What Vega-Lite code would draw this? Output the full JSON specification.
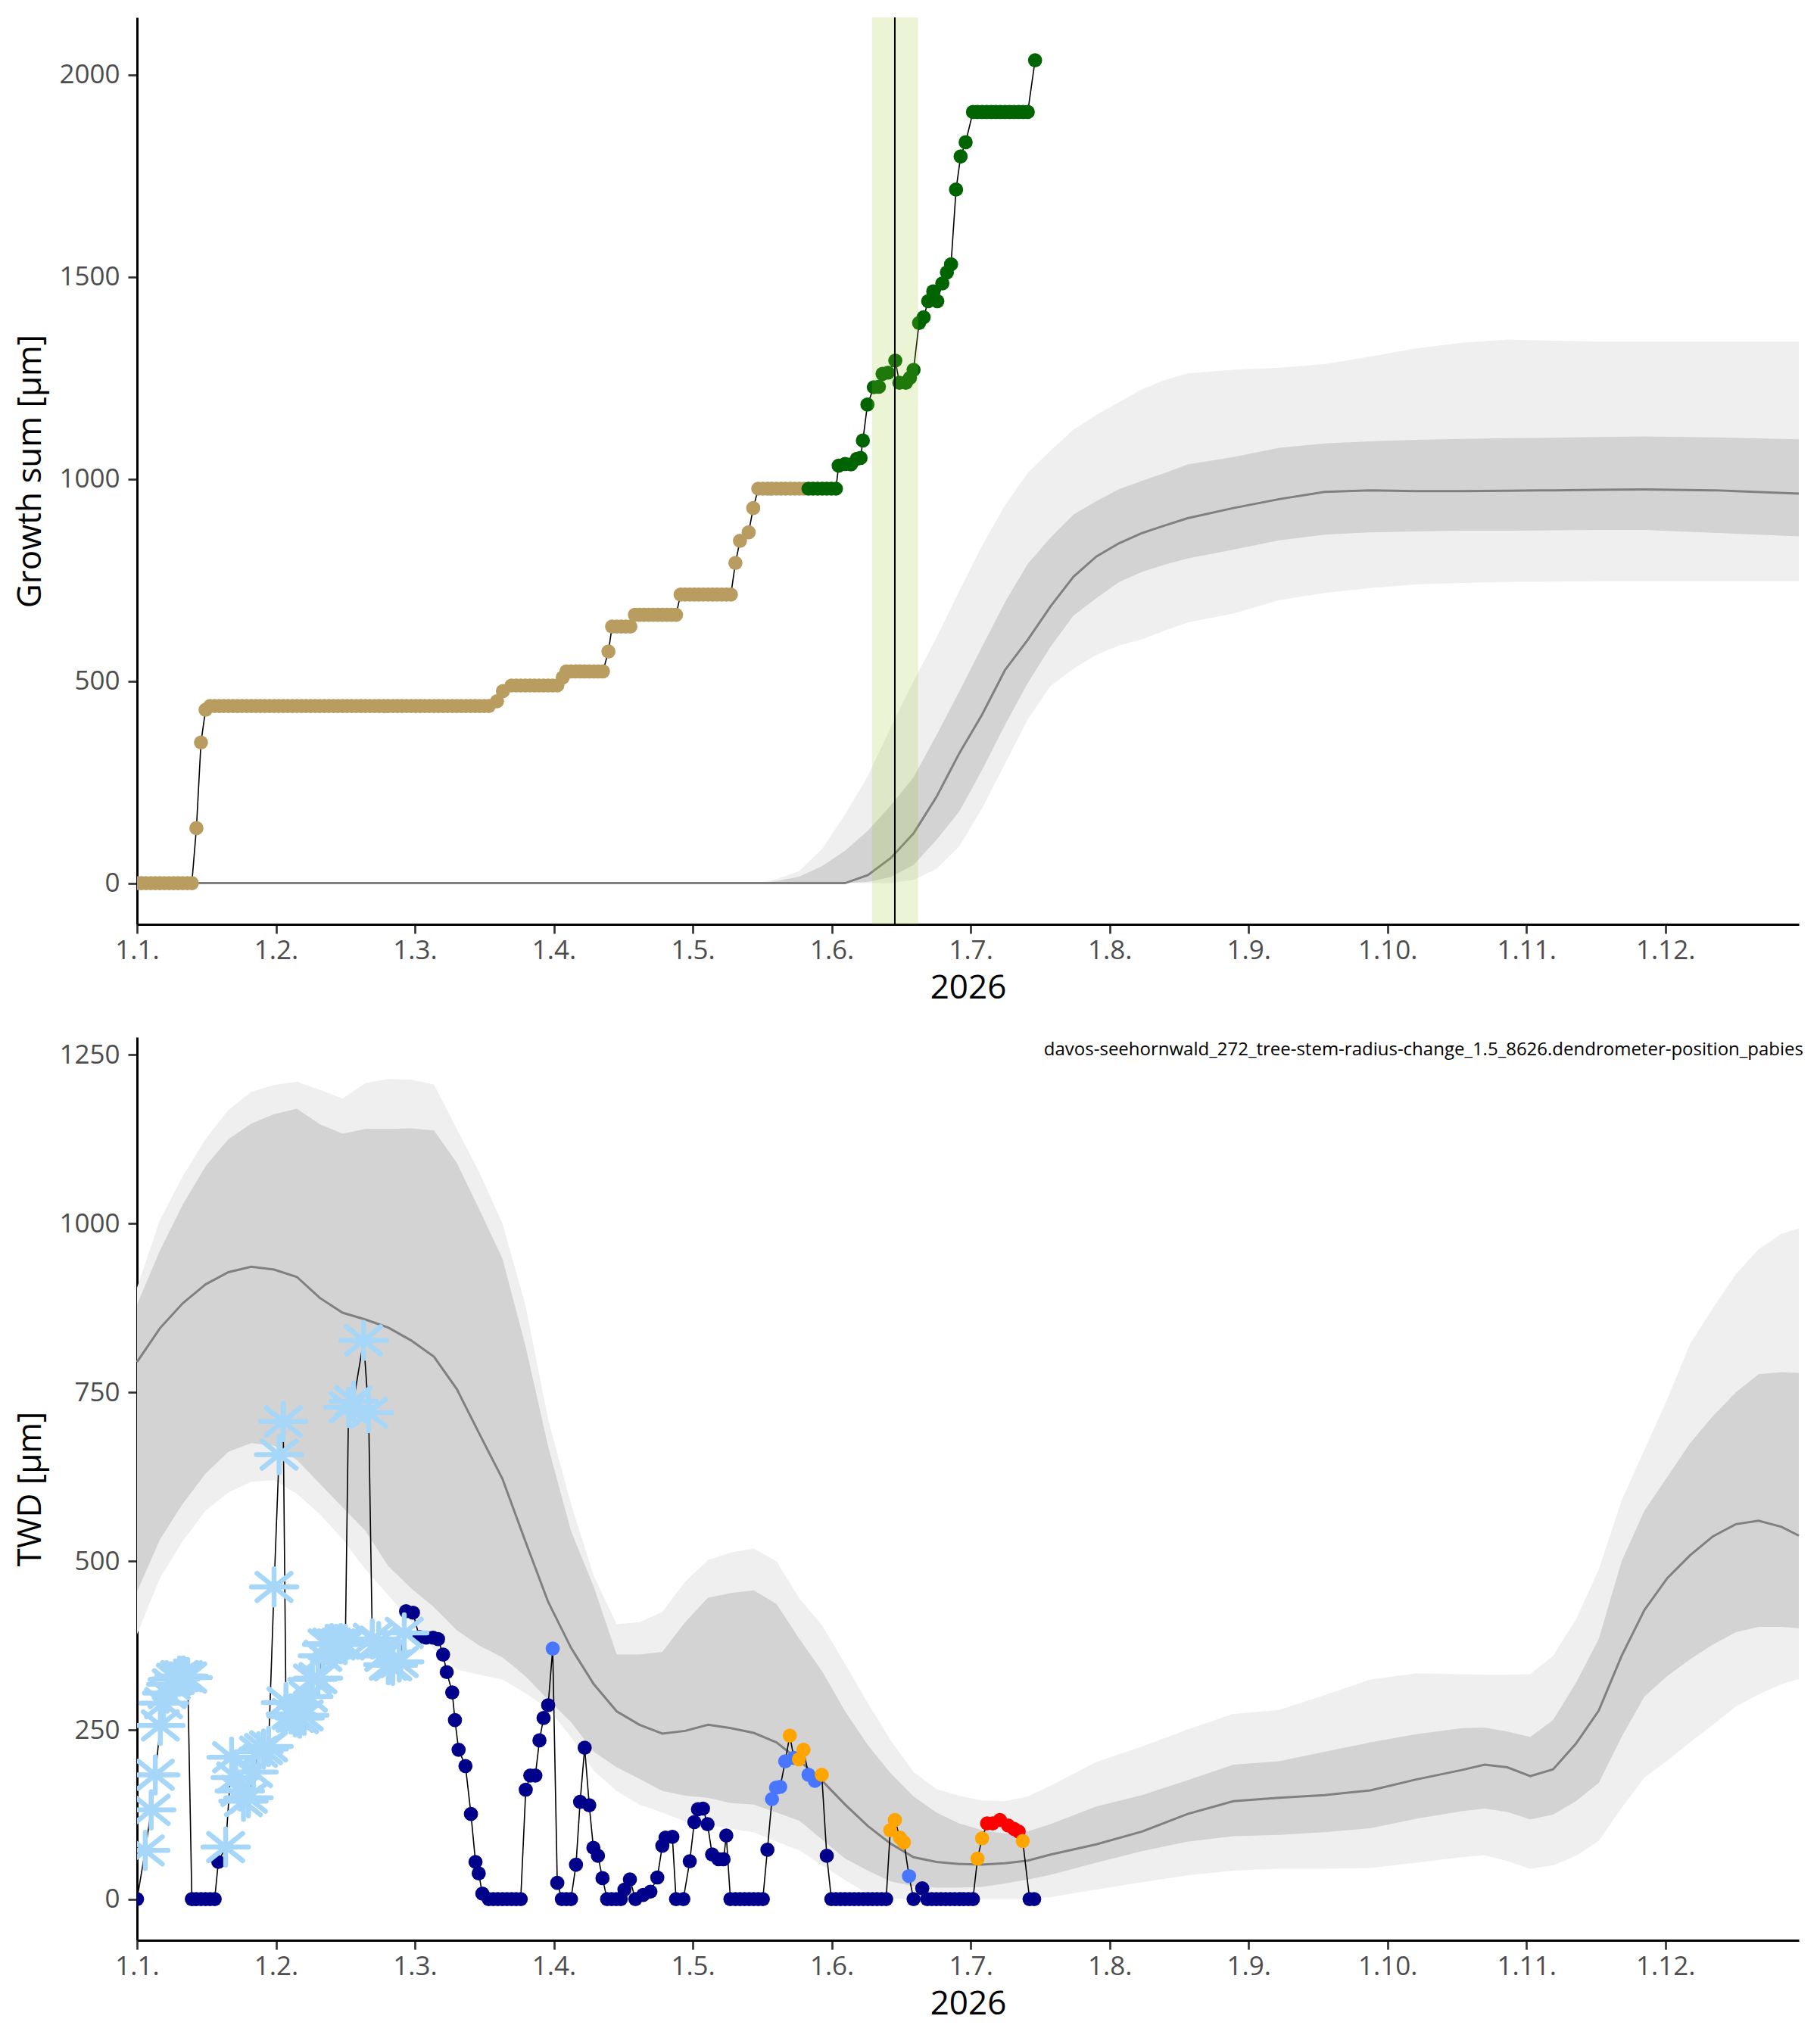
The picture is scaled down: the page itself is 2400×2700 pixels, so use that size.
{
  "$schema": "https://vega.github.io/schema/vega-lite/v6.json",
  "background": "white",
  "padding": {"left": 18, "top": 22, "right": 24, "bottom": 10},
  "spacing": 43,
  "resolve": {"scale": {"color": "independent"}},
  "config": {
    "view": {"stroke": null},
    "font": "Open Sans",
    "axis": {
      "grid": false,
      "domainColor": "#000000",
      "domainWidth": 3,
      "tickColor": "#333333",
      "tickWidth": 2.7,
      "tickSize": 12,
      "labelColor": "#4D4D4D",
      "labelFontSize": 35,
      "labelFont": "Open Sans",
      "titleFont": "Open Sans",
      "titleFontSize": 44,
      "titleFontWeight": "normal",
      "titleColor": "#000000"
    },
    "axisX": {"labelPadding": 5, "titlePadding": 10, "labelFlush": false},
    "axisY": {"labelPadding": 11, "titlePadding": 15, "format": "d"}
  },
  "datasets": {
    "gs": [
      {"d":0,"v":0,"c":"tan"},{"d":1,"v":0,"c":"tan"},{"d":2,"v":0,"c":"tan"},{"d":3,"v":0,"c":"tan"},{"d":4,"v":0,"c":"tan"},{"d":5,"v":0,"c":"tan"},{"d":6,"v":0,"c":"tan"},{"d":7,"v":0,"c":"tan"},{"d":8,"v":0,"c":"tan"},{"d":9,"v":0,"c":"tan"},{"d":10,"v":0,"c":"tan"},{"d":11,"v":0,"c":"tan"},{"d":12,"v":0,"c":"tan"},
      {"d":13,"v":136,"c":"tan"},{"d":14,"v":348,"c":"tan"},{"d":15,"v":429,"c":"tan"},
      {"d":16,"v":438,"c":"tan"},{"d":17,"v":438,"c":"tan"},{"d":18,"v":438,"c":"tan"},{"d":19,"v":438,"c":"tan"},{"d":20,"v":438,"c":"tan"},{"d":21,"v":438,"c":"tan"},{"d":22,"v":438,"c":"tan"},{"d":23,"v":438,"c":"tan"},{"d":24,"v":438,"c":"tan"},{"d":25,"v":438,"c":"tan"},
      {"d":26,"v":438,"c":"tan"},{"d":27,"v":438,"c":"tan"},{"d":28,"v":438,"c":"tan"},{"d":29,"v":438,"c":"tan"},{"d":30,"v":438,"c":"tan"},{"d":31,"v":438,"c":"tan"},{"d":32,"v":438,"c":"tan"},{"d":33,"v":438,"c":"tan"},{"d":34,"v":438,"c":"tan"},{"d":35,"v":438,"c":"tan"},
      {"d":36,"v":438,"c":"tan"},{"d":37,"v":438,"c":"tan"},{"d":38,"v":438,"c":"tan"},{"d":39,"v":438,"c":"tan"},{"d":40,"v":438,"c":"tan"},{"d":41,"v":438,"c":"tan"},{"d":42,"v":438,"c":"tan"},{"d":43,"v":438,"c":"tan"},{"d":44,"v":438,"c":"tan"},{"d":45,"v":438,"c":"tan"},
      {"d":46,"v":438,"c":"tan"},{"d":47,"v":438,"c":"tan"},{"d":48,"v":438,"c":"tan"},{"d":49,"v":438,"c":"tan"},{"d":50,"v":438,"c":"tan"},{"d":51,"v":438,"c":"tan"},{"d":52,"v":438,"c":"tan"},{"d":53,"v":438,"c":"tan"},{"d":54,"v":438,"c":"tan"},{"d":55,"v":438,"c":"tan"},
      {"d":56,"v":438,"c":"tan"},{"d":57,"v":438,"c":"tan"},{"d":58,"v":438,"c":"tan"},{"d":59,"v":438,"c":"tan"},{"d":60,"v":438,"c":"tan"},{"d":61,"v":438,"c":"tan"},{"d":62,"v":438,"c":"tan"},{"d":63,"v":438,"c":"tan"},{"d":64,"v":438,"c":"tan"},{"d":65,"v":438,"c":"tan"},
      {"d":66,"v":438,"c":"tan"},{"d":67,"v":438,"c":"tan"},{"d":68,"v":438,"c":"tan"},{"d":69,"v":438,"c":"tan"},{"d":70,"v":438,"c":"tan"},{"d":71,"v":438,"c":"tan"},{"d":72,"v":438,"c":"tan"},{"d":73,"v":438,"c":"tan"},{"d":74,"v":438,"c":"tan"},{"d":75,"v":438,"c":"tan"},
      {"d":76,"v":438,"c":"tan"},{"d":77,"v":438,"c":"tan"},
      {"d":78.8,"v":450,"c":"tan"},{"d":80.1,"v":475,"c":"tan"},
      {"d":82,"v":489,"c":"tan"},{"d":83,"v":489,"c":"tan"},{"d":84,"v":489,"c":"tan"},{"d":85,"v":489,"c":"tan"},{"d":86,"v":489,"c":"tan"},{"d":87,"v":489,"c":"tan"},{"d":88,"v":489,"c":"tan"},{"d":89,"v":489,"c":"tan"},{"d":90,"v":489,"c":"tan"},{"d":91,"v":489,"c":"tan"},{"d":92,"v":489,"c":"tan"},
      {"d":93.2,"v":509,"c":"tan"},
      {"d":94,"v":524,"c":"tan"},{"d":95,"v":524,"c":"tan"},{"d":96,"v":524,"c":"tan"},{"d":97,"v":524,"c":"tan"},{"d":98,"v":524,"c":"tan"},{"d":99,"v":524,"c":"tan"},{"d":100,"v":524,"c":"tan"},{"d":101,"v":524,"c":"tan"},{"d":102,"v":524,"c":"tan"},
      {"d":103.2,"v":573,"c":"tan"},
      {"d":104,"v":635,"c":"tan"},{"d":105,"v":635,"c":"tan"},{"d":106,"v":635,"c":"tan"},{"d":107,"v":635,"c":"tan"},{"d":108,"v":635,"c":"tan"},
      {"d":109,"v":664,"c":"tan"},{"d":110,"v":664,"c":"tan"},{"d":111,"v":664,"c":"tan"},{"d":112,"v":664,"c":"tan"},{"d":113,"v":664,"c":"tan"},{"d":114,"v":664,"c":"tan"},{"d":115,"v":664,"c":"tan"},{"d":116,"v":664,"c":"tan"},{"d":117,"v":664,"c":"tan"},{"d":118,"v":664,"c":"tan"},
      {"d":119,"v":714,"c":"tan"},{"d":120,"v":714,"c":"tan"},{"d":121,"v":714,"c":"tan"},{"d":122,"v":714,"c":"tan"},{"d":123,"v":714,"c":"tan"},{"d":124,"v":714,"c":"tan"},{"d":125,"v":714,"c":"tan"},{"d":126,"v":714,"c":"tan"},{"d":127,"v":714,"c":"tan"},{"d":128,"v":714,"c":"tan"},{"d":129,"v":714,"c":"tan"},{"d":130,"v":714,"c":"tan"},
      {"d":131,"v":792,"c":"tan"},{"d":132,"v":847,"c":"tan"},{"d":133.9,"v":868,"c":"tan"},{"d":134.9,"v":928,"c":"tan"},
      {"d":136,"v":976,"c":"tan"},{"d":137,"v":976,"c":"tan"},{"d":138,"v":976,"c":"tan"},{"d":139,"v":976,"c":"tan"},{"d":140,"v":976,"c":"tan"},{"d":141,"v":976,"c":"tan"},{"d":142,"v":976,"c":"tan"},{"d":143,"v":976,"c":"tan"},{"d":144,"v":976,"c":"tan"},{"d":145,"v":976,"c":"tan"},{"d":146,"v":976,"c":"tan"},
      {"d":147,"v":976,"c":"green"},{"d":148,"v":976,"c":"green"},{"d":149,"v":976,"c":"green"},{"d":150,"v":976,"c":"green"},{"d":151,"v":976,"c":"green"},{"d":152,"v":976,"c":"green"},{"d":153,"v":976,"c":"green"},
      {"d":153.6,"v":1033,"c":"green"},{"d":155.0,"v":1037,"c":"green"},{"d":156.3,"v":1036,"c":"green"},{"d":157.6,"v":1050,"c":"green"},{"d":158.4,"v":1052,"c":"green"},{"d":158.9,"v":1095,"c":"green"},
      {"d":159.9,"v":1184,"c":"green"},{"d":161.3,"v":1227,"c":"green"},{"d":162.4,"v":1228,"c":"green"},{"d":163.2,"v":1260,"c":"green"},{"d":164.4,"v":1263,"c":"green"},{"d":166.0,"v":1293,"c":"green"},
      {"d":166.9,"v":1238,"c":"green"},{"d":168.3,"v":1238,"c":"green"},{"d":169.2,"v":1250,"c":"green"},{"d":170.0,"v":1270,"c":"green"},{"d":171.2,"v":1386,"c":"green"},{"d":172.2,"v":1400,"c":"green"},
      {"d":173.2,"v":1440,"c":"green"},{"d":174.3,"v":1464,"c":"green"},{"d":175.2,"v":1440,"c":"green"},{"d":176.3,"v":1484,"c":"green"},{"d":177.3,"v":1511,"c":"green"},{"d":178.2,"v":1531,"c":"green"},
      {"d":179.3,"v":1716,"c":"green"},{"d":180.3,"v":1798,"c":"green"},{"d":181.4,"v":1833,"c":"green"},
      {"d":183,"v":1908,"c":"green"},{"d":184,"v":1908,"c":"green"},{"d":185,"v":1908,"c":"green"},{"d":186,"v":1908,"c":"green"},{"d":187,"v":1908,"c":"green"},{"d":188,"v":1908,"c":"green"},{"d":189,"v":1908,"c":"green"},
      {"d":190,"v":1908,"c":"green"},{"d":191,"v":1908,"c":"green"},{"d":192,"v":1908,"c":"green"},{"d":193,"v":1908,"c":"green"},{"d":194,"v":1908,"c":"green"},{"d":195,"v":1908,"c":"green"},
      {"d":196.6,"v":2036,"c":"green"}
    ],
    "gsband": [
      {"d":0,"lo90":0,"lo50":0,"med":0,"hi50":0,"hi90":0},
      {"d":130,"lo90":0,"lo50":0,"med":0,"hi50":0,"hi90":0},
      {"d":136,"lo90":0,"lo50":0,"med":0,"hi50":0,"hi90":0},
      {"d":140,"lo90":0,"lo50":0,"med":0,"hi50":5,"hi90":10},
      {"d":145,"lo90":0,"lo50":0,"med":0,"hi50":16,"hi90":30},
      {"d":150,"lo90":0,"lo50":0,"med":0,"hi50":42,"hi90":85},
      {"d":155,"lo90":0,"lo50":0,"med":0,"hi50":80,"hi90":170},
      {"d":160,"lo90":0,"lo50":3,"med":20,"hi50":130,"hi90":265},
      {"d":165,"lo90":0,"lo50":15,"med":62,"hi50":192,"hi90":385},
      {"d":170,"lo90":8,"lo50":45,"med":123,"hi50":262,"hi90":500},
      {"d":175,"lo90":35,"lo50":107,"med":213,"hi50":366,"hi90":607},
      {"d":180,"lo90":91,"lo50":177,"med":321,"hi50":474,"hi90":723},
      {"d":185,"lo90":185,"lo50":280,"med":417,"hi50":585,"hi90":835},
      {"d":190,"lo90":295,"lo50":391,"med":527,"hi50":695,"hi90":935},
      {"d":195,"lo90":405,"lo50":495,"med":602,"hi50":790,"hi90":1015},
      {"d":200,"lo90":488,"lo50":585,"med":685,"hi50":855,"hi90":1070},
      {"d":205,"lo90":530,"lo50":662,"med":758,"hi50":912,"hi90":1122},
      {"d":210,"lo90":565,"lo50":705,"med":808,"hi50":945,"hi90":1158},
      {"d":215,"lo90":588,"lo50":745,"med":841,"hi50":975,"hi90":1190},
      {"d":220,"lo90":603,"lo50":770,"med":866,"hi50":995,"hi90":1222},
      {"d":225,"lo90":625,"lo50":788,"med":885,"hi50":1015,"hi90":1245},
      {"d":230,"lo90":645,"lo50":803,"med":903,"hi50":1036,"hi90":1261},
      {"d":240,"lo90":667,"lo50":825,"med":928,"hi50":1054,"hi90":1270},
      {"d":250,"lo90":700,"lo50":848,"med":950,"hi50":1077,"hi90":1275},
      {"d":260,"lo90":718,"lo50":862,"med":968,"hi50":1088,"hi90":1284},
      {"d":270,"lo90":730,"lo50":868,"med":972,"hi50":1093,"hi90":1303},
      {"d":280,"lo90":739,"lo50":870,"med":970,"hi50":1097,"hi90":1323},
      {"d":290,"lo90":743,"lo50":872,"med":970,"hi50":1099,"hi90":1337},
      {"d":300,"lo90":745,"lo50":872,"med":971,"hi50":1101,"hi90":1345},
      {"d":310,"lo90":746,"lo50":873,"med":972,"hi50":1102,"hi90":1342},
      {"d":320,"lo90":747,"lo50":874,"med":973,"hi50":1104,"hi90":1340},
      {"d":330,"lo90":747,"lo50":874,"med":974,"hi50":1105,"hi90":1340},
      {"d":345,"lo90":747,"lo50":867,"med":972,"hi50":1103,"hi90":1340},
      {"d":363.8,"lo90":747,"lo50":858,"med":964,"hi50":1098,"hi90":1340}
    ],
    "twd": [
      {"d":0,"v":0,"c":"n"},
      {"d":1.8,"v":72,"c":"s"},{"d":3.1,"v":132,"c":"s"},{"d":4.0,"v":184,"c":"s"},{"d":5.1,"v":257,"c":"s"},{"d":5.8,"v":290,"c":"s"},{"d":6.6,"v":305,"c":"s"},
      {"d":7.5,"v":318,"c":"s"},{"d":8.4,"v":326,"c":"s"},{"d":9.3,"v":330,"c":"s"},{"d":10.2,"v":330,"c":"s"},{"d":11.1,"v":328,"c":"s"},
      {"d":12,"v":0,"c":"n"},{"d":13,"v":0,"c":"n"},{"d":14,"v":0,"c":"n"},{"d":15,"v":0,"c":"n"},{"d":16,"v":0,"c":"n"},{"d":17,"v":0,"c":"n"},
      {"d":17.8,"v":55,"c":"n"},
      {"d":19.4,"v":77,"c":"s"},{"d":20.7,"v":210,"c":"s"},{"d":21.6,"v":180,"c":"s"},{"d":22.5,"v":160,"c":"s"},{"d":23.3,"v":145,"c":"s"},{"d":24.4,"v":150,"c":"s"},
      {"d":25.5,"v":188,"c":"s"},{"d":26.6,"v":218,"c":"s"},{"d":27.7,"v":222,"c":"s"},{"d":28.8,"v":226,"c":"s"},
      {"d":30.0,"v":462,"c":"s"},{"d":31.1,"v":658,"c":"s"},{"d":32.0,"v":707,"c":"s"},
      {"d":32.6,"v":291,"c":"s"},{"d":33.7,"v":274,"c":"s"},{"d":34.6,"v":270,"c":"s"},{"d":35.6,"v":268,"c":"s"},{"d":36.6,"v":272,"c":"s"},{"d":37.5,"v":300,"c":"s"},
      {"d":38.4,"v":325,"c":"s"},{"d":39.6,"v":327,"c":"s"},{"d":40.7,"v":360,"c":"s"},{"d":41.6,"v":377,"c":"s"},{"d":42.6,"v":378,"c":"s"},{"d":43.6,"v":377,"c":"s"},
      {"d":44.6,"v":378,"c":"s"},{"d":45.6,"v":377,"c":"s"},
      {"d":46.3,"v":728,"c":"s"},{"d":47.4,"v":737,"c":"s"},{"d":49.6,"v":827,"c":"s"},{"d":50.7,"v":720,"c":"s"},
      {"d":51.5,"v":385,"c":"s"},{"d":52.9,"v":381,"c":"s"},{"d":54.0,"v":360,"c":"s"},{"d":55.0,"v":347,"c":"s"},{"d":56.0,"v":346,"c":"s"},{"d":57.4,"v":351,"c":"s"},{"d":58.5,"v":394,"c":"s"},
      {"d":58.9,"v":426,"c":"n"},{"d":60.4,"v":424,"c":"n"},{"d":61.8,"v":388,"c":"n"},{"d":63.3,"v":387,"c":"n"},{"d":64.8,"v":387,"c":"n"},{"d":65.9,"v":385,"c":"n"},
      {"d":67.0,"v":362,"c":"n"},{"d":67.8,"v":336,"c":"n"},{"d":69.0,"v":306,"c":"n"},{"d":69.6,"v":265,"c":"n"},{"d":70.4,"v":221,"c":"n"},{"d":71.9,"v":197,"c":"n"},
      {"d":73.1,"v":126,"c":"n"},{"d":74.1,"v":55,"c":"n"},{"d":74.8,"v":38,"c":"n"},{"d":75.6,"v":8,"c":"n"},
      {"d":77,"v":0,"c":"n"},{"d":78,"v":0,"c":"n"},{"d":79,"v":0,"c":"n"},{"d":80,"v":0,"c":"n"},{"d":81,"v":0,"c":"n"},{"d":82,"v":0,"c":"n"},{"d":83,"v":0,"c":"n"},{"d":84,"v":0,"c":"n"},
      {"d":85.1,"v":162,"c":"n"},{"d":86.1,"v":183,"c":"n"},{"d":87.2,"v":183,"c":"n"},{"d":88.1,"v":235,"c":"n"},{"d":89.0,"v":268,"c":"n"},{"d":90.0,"v":287,"c":"n"},
      {"d":91.0,"v":371,"c":"b"},
      {"d":92.0,"v":24,"c":"n"},{"d":93.0,"v":0,"c":"n"},{"d":94.0,"v":0,"c":"n"},{"d":95.0,"v":0,"c":"n"},
      {"d":96.1,"v":51,"c":"n"},{"d":97.0,"v":144,"c":"n"},{"d":98.0,"v":224,"c":"n"},{"d":99.0,"v":139,"c":"n"},{"d":99.9,"v":76,"c":"n"},{"d":100.9,"v":64,"c":"n"},{"d":101.9,"v":31,"c":"n"},
      {"d":102.9,"v":0,"c":"n"},{"d":103.9,"v":0,"c":"n"},{"d":104.9,"v":0,"c":"n"},{"d":105.9,"v":0,"c":"n"},
      {"d":106.7,"v":14,"c":"n"},{"d":107.9,"v":29,"c":"n"},{"d":109.1,"v":0,"c":"n"},{"d":110.8,"v":6,"c":"n"},{"d":112.4,"v":11,"c":"n"},{"d":113.9,"v":32,"c":"n"},
      {"d":115.0,"v":79,"c":"n"},{"d":115.7,"v":91,"c":"n"},{"d":117.2,"v":92,"c":"n"},{"d":118.0,"v":0,"c":"n"},{"d":119.6,"v":0,"c":"n"},
      {"d":121.0,"v":56,"c":"n"},{"d":122.0,"v":114,"c":"n"},{"d":122.8,"v":133,"c":"n"},{"d":123.9,"v":134,"c":"n"},{"d":124.9,"v":111,"c":"n"},{"d":125.9,"v":66,"c":"n"},
      {"d":127.3,"v":59,"c":"n"},{"d":128.4,"v":59,"c":"n"},{"d":129.0,"v":94,"c":"n"},{"d":129.9,"v":0,"c":"n"},
      {"d":131,"v":0,"c":"n"},{"d":132,"v":0,"c":"n"},{"d":133,"v":0,"c":"n"},{"d":134,"v":0,"c":"n"},{"d":135,"v":0,"c":"n"},{"d":136,"v":0,"c":"n"},{"d":137,"v":0,"c":"n"},
      {"d":138.0,"v":73,"c":"n"},
      {"d":139.0,"v":148,"c":"b"},{"d":139.9,"v":165,"c":"b"},{"d":140.8,"v":166,"c":"b"},{"d":141.9,"v":204,"c":"b"},
      {"d":142.9,"v":242,"c":"o"},{"d":143.8,"v":209,"c":"b"},{"d":144.9,"v":207,"c":"o"},{"d":145.9,"v":221,"c":"o"},
      {"d":147.0,"v":184,"c":"b"},{"d":148.4,"v":175,"c":"b"},{"d":149.9,"v":184,"c":"o"},
      {"d":151.0,"v":64,"c":"n"},
      {"d":152,"v":0,"c":"n"},{"d":153,"v":0,"c":"n"},{"d":154,"v":0,"c":"n"},{"d":155,"v":0,"c":"n"},{"d":156,"v":0,"c":"n"},{"d":157,"v":0,"c":"n"},{"d":158,"v":0,"c":"n"},
      {"d":159,"v":0,"c":"n"},{"d":160,"v":0,"c":"n"},{"d":161,"v":0,"c":"n"},{"d":162,"v":0,"c":"n"},{"d":163,"v":0,"c":"n"},{"d":164,"v":0,"c":"n"},
      {"d":164.9,"v":102,"c":"o"},{"d":165.9,"v":117,"c":"o"},{"d":167.0,"v":91,"c":"o"},{"d":167.9,"v":84,"c":"o"},
      {"d":169.0,"v":34,"c":"b"},
      {"d":170.0,"v":0,"c":"n"},{"d":171.9,"v":16,"c":"n"},
      {"d":173,"v":0,"c":"n"},{"d":174,"v":0,"c":"n"},{"d":175,"v":0,"c":"n"},{"d":176,"v":0,"c":"n"},{"d":177,"v":0,"c":"n"},{"d":178,"v":0,"c":"n"},
      {"d":179,"v":0,"c":"n"},{"d":180,"v":0,"c":"n"},{"d":181,"v":0,"c":"n"},{"d":182,"v":0,"c":"n"},{"d":183,"v":0,"c":"n"},
      {"d":184.0,"v":60,"c":"o"},{"d":185.0,"v":90,"c":"o"},
      {"d":186.1,"v":112,"c":"r"},{"d":187.3,"v":112,"c":"r"},{"d":188.9,"v":117,"c":"r"},{"d":190.7,"v":109,"c":"r"},{"d":192.0,"v":104,"c":"r"},{"d":193.0,"v":100,"c":"r"},
      {"d":193.9,"v":86,"c":"o"},
      {"d":195.4,"v":0,"c":"n"},{"d":196.4,"v":0,"c":"n"}
    ],
    "twdband": [
      {"d":0,"lo90":392,"lo50":455,"med":795,"hi50":880,"hi90":905},
      {"d":5,"lo90":475,"lo50":532,"med":845,"hi50":960,"hi90":1005},
      {"d":10,"lo90":530,"lo50":585,"med":882,"hi50":1028,"hi90":1070},
      {"d":15,"lo90":575,"lo50":630,"med":910,"hi50":1085,"hi90":1125},
      {"d":20,"lo90":602,"lo50":662,"med":928,"hi50":1125,"hi90":1168},
      {"d":25,"lo90":618,"lo50":675,"med":936,"hi50":1148,"hi90":1195},
      {"d":30,"lo90":620,"lo50":671,"med":932,"hi50":1162,"hi90":1205},
      {"d":35,"lo90":600,"lo50":650,"med":921,"hi50":1170,"hi90":1210},
      {"d":40,"lo90":570,"lo50":615,"med":890,"hi50":1147,"hi90":1198},
      {"d":45,"lo90":533,"lo50":580,"med":868,"hi50":1133,"hi90":1185},
      {"d":50,"lo90":488,"lo50":545,"med":858,"hi50":1140,"hi90":1208},
      {"d":55,"lo90":450,"lo50":493,"med":846,"hi50":1140,"hi90":1214},
      {"d":60,"lo90":410,"lo50":460,"med":827,"hi50":1141,"hi90":1213},
      {"d":65,"lo90":370,"lo50":432,"med":803,"hi50":1138,"hi90":1206},
      {"d":70,"lo90":340,"lo50":398,"med":755,"hi50":1090,"hi90":1140},
      {"d":75,"lo90":332,"lo50":375,"med":688,"hi50":1020,"hi90":1075},
      {"d":80,"lo90":325,"lo50":358,"med":622,"hi50":948,"hi90":1000},
      {"d":85,"lo90":305,"lo50":330,"med":530,"hi50":820,"hi90":880},
      {"d":90,"lo90":282,"lo50":295,"med":440,"hi50":670,"hi90":710},
      {"d":95,"lo90":240,"lo50":262,"med":372,"hi50":545,"hi90":585},
      {"d":100,"lo90":190,"lo50":218,"med":318,"hi50":462,"hi90":478},
      {"d":105,"lo90":160,"lo50":195,"med":278,"hi50":362,"hi90":407},
      {"d":110,"lo90":140,"lo50":178,"med":258,"hi50":362,"hi90":410},
      {"d":115,"lo90":128,"lo50":160,"med":245,"hi50":366,"hi90":425},
      {"d":120,"lo90":115,"lo50":153,"med":249,"hi50":410,"hi90":470},
      {"d":125,"lo90":110,"lo50":150,"med":258,"hi50":446,"hi90":502},
      {"d":130,"lo90":104,"lo50":142,"med":253,"hi50":453,"hi90":513},
      {"d":135,"lo90":99,"lo50":140,"med":246,"hi50":457,"hi90":519},
      {"d":140,"lo90":85,"lo50":128,"med":232,"hi50":437,"hi90":500},
      {"d":145,"lo90":72,"lo50":116,"med":205,"hi50":385,"hi90":445},
      {"d":150,"lo90":50,"lo50":88,"med":175,"hi50":337,"hi90":405},
      {"d":155,"lo90":28,"lo50":60,"med":140,"hi50":278,"hi90":348},
      {"d":160,"lo90":8,"lo50":42,"med":108,"hi50":228,"hi90":290},
      {"d":165,"lo90":1,"lo50":26,"med":82,"hi50":186,"hi90":235},
      {"d":170,"lo90":0,"lo50":19,"med":62,"hi50":152,"hi90":188},
      {"d":175,"lo90":0,"lo50":17,"med":55,"hi50":128,"hi90":163},
      {"d":180,"lo90":0,"lo50":17,"med":52,"hi50":112,"hi90":153},
      {"d":185,"lo90":0,"lo50":18,"med":51,"hi50":102,"hi90":146},
      {"d":190,"lo90":0,"lo50":23,"med":53,"hi50":97,"hi90":145},
      {"d":195,"lo90":0,"lo50":29,"med":57,"hi50":100,"hi90":152},
      {"d":200,"lo90":3,"lo50":36,"med":66,"hi50":111,"hi90":168},
      {"d":210,"lo90":14,"lo50":54,"med":81,"hi50":137,"hi90":203},
      {"d":220,"lo90":25,"lo50":71,"med":100,"hi50":154,"hi90":226},
      {"d":230,"lo90":35,"lo50":85,"med":126,"hi50":176,"hi90":251},
      {"d":240,"lo90":42,"lo50":93,"med":145,"hi50":199,"hi90":274},
      {"d":250,"lo90":45,"lo50":95,"med":150,"hi50":204,"hi90":280},
      {"d":260,"lo90":45,"lo50":99,"med":154,"hi50":218,"hi90":302},
      {"d":270,"lo90":46,"lo50":105,"med":161,"hi50":232,"hi90":325},
      {"d":280,"lo90":54,"lo50":119,"med":177,"hi50":244,"hi90":334},
      {"d":290,"lo90":62,"lo50":130,"med":191,"hi50":253,"hi90":333},
      {"d":295,"lo90":65,"lo50":134,"med":199,"hi50":254,"hi90":332},
      {"d":300,"lo90":56,"lo50":129,"med":195,"hi50":248,"hi90":332},
      {"d":305,"lo90":45,"lo50":118,"med":182,"hi50":240,"hi90":333},
      {"d":310,"lo90":50,"lo50":125,"med":192,"hi50":265,"hi90":360},
      {"d":315,"lo90":64,"lo50":145,"med":230,"hi50":320,"hi90":414},
      {"d":320,"lo90":86,"lo50":172,"med":279,"hi50":385,"hi90":488},
      {"d":325,"lo90":135,"lo50":240,"med":360,"hi50":500,"hi90":590},
      {"d":330,"lo90":180,"lo50":300,"med":428,"hi50":575,"hi90":665},
      {"d":335,"lo90":205,"lo50":330,"med":475,"hi50":625,"hi90":740},
      {"d":340,"lo90":232,"lo50":355,"med":509,"hi50":675,"hi90":822},
      {"d":345,"lo90":258,"lo50":377,"med":537,"hi50":715,"hi90":875},
      {"d":350,"lo90":285,"lo50":395,"med":555,"hi50":750,"hi90":925},
      {"d":355,"lo90":303,"lo50":403,"med":560,"hi50":777,"hi90":962},
      {"d":360,"lo90":318,"lo50":403,"med":551,"hi50":780,"hi90":985},
      {"d":363.8,"lo90":326,"lo50":401,"med":538,"hi50":779,"hi90":993}
    ]
  },
  "vconcat": [
    {
      "width": 2195,
      "height": 1198,
      "encoding": {
        "x": {
          "field": "d", "type": "quantitative", "title": "2026",
          "scale": {"domain": [0, 363.8], "nice": false, "zero": false},
          "axis": {
            "values": [0, 30.4167, 60.8333, 91.25, 121.6667, 152.0833, 182.5, 212.9167, 243.3333, 273.75, 304.1667, 334.5833],
            "labelExpr": "'1.' + (round(datum.value / 30.4167) + 1) + '.'"
          }
        }
      },
      "layer": [
        {
          "data": {"name": "gsband"},
          "mark": {"type": "area", "color": "#EFEFEF"},
          "encoding": {
            "y": {"field": "lo90", "type": "quantitative", "title": "Growth sum [µm]", "scale": {"domain": [-102, 2142], "nice": false, "zero": false}, "axis": {"values": [0, 500, 1000, 1500, 2000]}},
            "y2": {"field": "hi90"}
          }
        },
        {
          "data": {"name": "gsband"},
          "mark": {"type": "area", "color": "#D3D3D3"},
          "encoding": {
            "y": {"field": "lo50", "type": "quantitative", "title": "Growth sum [µm]", "scale": {"domain": [-102, 2142], "nice": false, "zero": false}, "axis": {"values": [0, 500, 1000, 1500, 2000]}},
            "y2": {"field": "hi50"}
          }
        },
        {
          "data": {"name": "gsband"},
          "mark": {"type": "line", "color": "#808080", "strokeWidth": 3},
          "encoding": {
            "y": {"field": "med", "type": "quantitative", "title": "Growth sum [µm]", "scale": {"domain": [-102, 2142], "nice": false, "zero": false}, "axis": {"values": [0, 500, 1000, 1500, 2000]}}
          }
        },
        {
          "data": {"name": "gs"},
          "mark": {"type": "line", "color": "#000000", "strokeWidth": 1.6},
          "encoding": {
            "y": {"field": "v", "type": "quantitative", "title": "Growth sum [µm]", "scale": {"domain": [-102, 2142], "nice": false, "zero": false}, "axis": {"values": [0, 500, 1000, 1500, 2000]}}
          }
        },
        {
          "data": {"name": "gs"},
          "mark": {"type": "circle", "size": 350, "opacity": 1, "clip": true},
          "encoding": {
            "y": {"field": "v", "type": "quantitative", "title": "Growth sum [µm]", "scale": {"domain": [-102, 2142], "nice": false, "zero": false}, "axis": {"values": [0, 500, 1000, 1500, 2000]}},
            "color": {"field": "c", "type": "nominal", "scale": {"domain": ["tan", "green"], "range": ["#B99C5F", "#006400"]}, "legend": null}
          }
        },
        {
          "data": {"values": [{"d": 160.9, "d2": 171.0}]},
          "mark": {"type": "rect", "color": "#9ACD32", "opacity": 0.2},
          "encoding": {"x2": {"field": "d2"}}
        },
        {
          "data": {"values": [{"d": 165.9}]},
          "mark": {"type": "rule", "color": "#000000", "strokeWidth": 2},
          "encoding": {}
        }
      ]
    },
    {
      "width": 2195,
      "height": 1193,
      "title": {
        "text": "davos-seehornwald_272_tree-stem-radius-change_1.5_8626.dendrometer-position_pabies",
        "anchor": "end",
        "orient": "top",
        "offset": -29,
        "fontSize": 24,
        "font": "Open Sans",
        "fontWeight": "normal",
        "color": "#000000"
      },
      "encoding": {
        "x": {
          "field": "d", "type": "quantitative", "title": "2026",
          "scale": {"domain": [0, 363.8], "nice": false, "zero": false},
          "axis": {
            "values": [0, 30.4167, 60.8333, 91.25, 121.6667, 152.0833, 182.5, 212.9167, 243.3333, 273.75, 304.1667, 334.5833],
            "labelExpr": "'1.' + (round(datum.value / 30.4167) + 1) + '.'"
          }
        }
      },
      "layer": [
        {
          "data": {"name": "twdband"},
          "mark": {"type": "area", "color": "#EFEFEF"},
          "encoding": {
            "y": {"field": "lo90", "type": "quantitative", "title": "TWD [µm]", "scale": {"domain": [-61, 1276], "nice": false, "zero": false}, "axis": {"values": [0, 250, 500, 750, 1000, 1250]}},
            "y2": {"field": "hi90"}
          }
        },
        {
          "data": {"name": "twdband"},
          "mark": {"type": "area", "color": "#D3D3D3"},
          "encoding": {
            "y": {"field": "lo50", "type": "quantitative", "title": "TWD [µm]", "scale": {"domain": [-61, 1276], "nice": false, "zero": false}, "axis": {"values": [0, 250, 500, 750, 1000, 1250]}},
            "y2": {"field": "hi50"}
          }
        },
        {
          "data": {"name": "twdband"},
          "mark": {"type": "line", "color": "#808080", "strokeWidth": 3},
          "encoding": {
            "y": {"field": "med", "type": "quantitative", "title": "TWD [µm]", "scale": {"domain": [-61, 1276], "nice": false, "zero": false}, "axis": {"values": [0, 250, 500, 750, 1000, 1250]}}
          }
        },
        {
          "data": {"name": "twd"},
          "mark": {"type": "line", "color": "#000000", "strokeWidth": 1.6},
          "encoding": {
            "y": {"field": "v", "type": "quantitative", "title": "TWD [µm]", "scale": {"domain": [-61, 1276], "nice": false, "zero": false}, "axis": {"values": [0, 250, 500, 750, 1000, 1250]}}
          }
        },
        {
          "data": {"name": "twd"},
          "transform": [{"filter": "datum.c != 's'"}],
          "mark": {"type": "circle", "size": 350, "opacity": 1, "clip": true},
          "encoding": {
            "y": {"field": "v", "type": "quantitative", "title": "TWD [µm]", "scale": {"domain": [-61, 1276], "nice": false, "zero": false}, "axis": {"values": [0, 250, 500, 750, 1000, 1250]}},
            "color": {"field": "c", "type": "nominal", "scale": {"domain": ["n", "b", "o", "r"], "range": ["#00008B", "#4876FF", "#FFA500", "#FF0000"]}, "legend": null}
          }
        },
        {
          "data": {"name": "twd"},
          "transform": [{"filter": "datum.c == 's'"}],
          "mark": {
            "type": "point",
            "shape": "M-1,0L1,0M0,-0.8L0,0.8M-0.75,-0.6L0.75,0.6M-0.75,0.6L0.75,-0.6",
            "filled": false,
            "color": "#A6D7F9",
            "strokeWidth": 6.5,
            "strokeCap": "round",
            "size": 3600,
            "opacity": 1,
            "clip": true
          },
          "encoding": {
            "y": {"field": "v", "type": "quantitative", "title": "TWD [µm]", "scale": {"domain": [-61, 1276], "nice": false, "zero": false}, "axis": {"values": [0, 250, 500, 750, 1000, 1250]}}
          }
        }
      ]
    }
  ]
}
